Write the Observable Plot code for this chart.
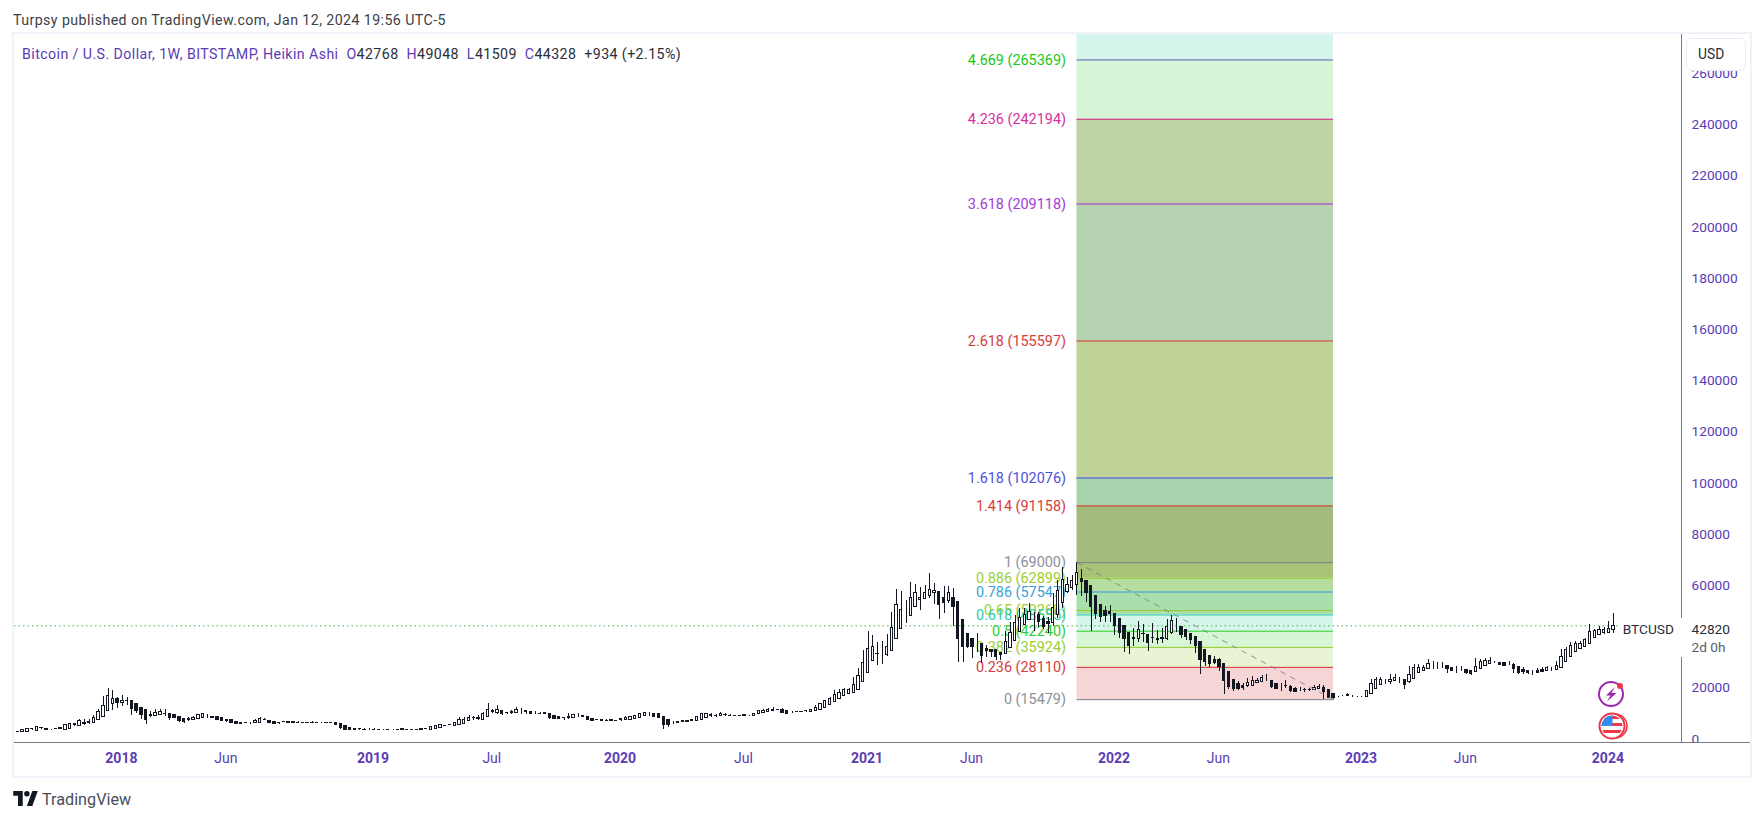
<!DOCTYPE html>
<html><head><meta charset="utf-8">
<script src="https://cdn.jsdelivr.net/npm/d3@7"></script>
<script src="https://cdn.jsdelivr.net/npm/@observablehq/plot@0.6"></script>
<style>
html,body{margin:0;padding:0;background:#fff;width:1764px;height:821px;overflow:hidden;font-family:Roboto,sans-serif}
.abs{position:absolute;white-space:nowrap}
#chart{position:absolute;left:0;top:33px}
</style></head><body>
<div class="abs" style="left:13px;top:11px;font-size:14.2px;letter-spacing:.42px;line-height:18px;color:#3c3f48">Turpsy published on TradingView.com, Jan 12, 2024 19:56 UTC-5</div>
<div id="chart"></div>
<div class="abs" style="left:12px;top:32px;width:1740px;height:746px;box-sizing:border-box;border:2px solid #f0f3fa"></div>
<div class="abs" style="left:1683px;top:743px;width:66px;height:32px;background:#fff"></div>
<div class="abs" style="left:14px;top:742px;width:1736px;height:1px;background:#787b86"></div>
<div class="abs" style="left:22px;top:45px;font-size:14.2px;letter-spacing:.42px;line-height:18px;color:#2a2e39"><span style="color:#5b3cb4">Bitcoin / U.S. Dollar, 1W, BITSTAMP, Heikin Ashi</span>&nbsp; <span style="color:#5b3cb4">O</span>42768&nbsp; <span style="color:#5b3cb4">H</span>49048&nbsp; <span style="color:#5b3cb4">L</span>41509&nbsp; <span style="color:#5b3cb4">C</span>44328&nbsp; +934 (+2.15%)</div>
<div class="abs" style="left:1686px;top:38px;width:60px;height:33px;box-sizing:border-box;border:1.5px solid #e9eaf3;border-radius:6px;background:#fff;font-size:13.8px;line-height:30px;padding-left:11px;color:#2a2e39">USD</div>
<svg class="abs" style="left:1594px;top:678px" width="36" height="64" viewBox="0 0 36 64">
<circle cx="17" cy="16" r="12" fill="#fff" stroke="#9c27b0" stroke-width="2"/>
<path d="M21 9 L12 17.5 L16.5 17.5 L13 23.5 L22.5 15 L17.5 15 Z" fill="#9c27b0"/>
<circle cx="26" cy="8" r="3" fill="#f23645"/>
<circle cx="21" cy="48" r="12" fill="#fff" stroke="#f23645" stroke-width="1.6"/>
<circle cx="18" cy="48" r="12.5" fill="#fff" stroke="#f23645" stroke-width="2"/>
<clipPath id="fc"><circle cx="18" cy="48" r="10.5"/></clipPath>
<g clip-path="url(#fc)"><rect x="6" y="37" width="24" height="22" fill="#fff"/>
<rect x="6" y="37" width="24" height="4" fill="#f23645"/><rect x="6" y="45" width="24" height="3" fill="#f23645"/><rect x="6" y="52" width="24" height="3" fill="#f23645"/>
<rect x="7" y="37" width="11.5" height="11" fill="#2f8df0"/></g>
</svg>
<svg class="abs" style="left:13px;top:791px" width="25" height="15" viewBox="0 0 36 22"><path fill="#131722" d="M14 22H7V7H0V0h14v22zM28 22h-8L28 0h8l-8 22z"/><circle cx="20" cy="4" r="4" fill="#131722"/></svg>
<div class="abs" style="left:42px;top:790px;font-size:16.2px;line-height:20px;color:#4a4e5a">TradingView</div>
<script>
const firstWeek = "2017-07-24";
const opens = [
2650,2800,2900,3000,3900,3400,4300,4100,3800,4000,
3900,3800,4200,5900,5130,6000,6200,6300,7470,8780,
11120,13600,15700,14100,14800,14800,13600,12400,11250,9300,
9040,9560,9900,9950,9300,8780,8100,7800,7600,8000,
8400,9000,8900,8800,8500,7700,7600,6800,6500,6300,
6300,6400,6500,7600,7200,6900,6500,6700,6600,6700,
6500,6500,6450,6400,6450,6400,6450,6400,6500,6000,
5300,4600,4200,3900,3800,3800,3800,3700,3600,3600,
3700,3700,3800,3750,3750,3720,3800,3850,3700,4000,
4500,5300,5400,5100,5500,6000,7000,8200,8100,7700,
8900,10500,10300,11000,10200,10400,10100,11000,11000,10500,
10200,10000,10100,10000,9100,8900,8500,8300,8300,9100,
8950,8900,8000,7500,7500,7300,7400,7300,7400,7400,
7700,8000,8300,9000,9800,9800,9700,8900,7600,6300,
6600,6800,7000,7300,7000,7400,8400,9200,9000,9000,
9400,9200,9200,9150,9200,9200,9200,9700,10300,10700,
11100,11300,11640,11000,10700,10700,10600,10900,10700,11000,
11400,12200,13500,14600,15800,17100,17800,18000,19450,22300,
25800,30500,33300,33400,33100,34400,39200,42900,48600,48100,
51600,54500,54900,56000,57200,57700,55000,54000,55250,53700,
46700,41200,39000,37300,37300,35300,35000,34700,33900,33400,
35700,38300,41800,44700,46500,47000,48400,47000,45900,45400,
48400,53200,57500,59200,60200,62700,62000,59700,55800,52650,
50300,49650,49000,46800,44200,41700,39500,39100,41200,40900,
39700,39350,39600,39100,41500,44300,44050,42500,41200,40150,
38200,34700,32700,31150,30800,29600,26100,23200,21660,21000,
20750,21000,22000,22300,23350,22700,21660,21000,21000,20600,
19800,19300,19200,19300,19200,19700,20200,19300,17750,16800,
17100,17100,17000,16700,16700,16450,17500,19600,21300,22300,
22200,22700,23100,23200,22200,23500,25800,26600,27400,28600,
28700,28700,28800,28000,27500,27650,27100,26700,26200,27400,
28600,29350,30000,29850,29850,29600,29100,28300,27100,26600,
26500,26500,26900,26600,27250,27000,27800,30100,32300,34000,
35200,36000,37300,39500,40800,41500,41600,42768];
const highs = [
2800,3200,3800,4300,4300,4800,4600,4200,4000,4200,
4600,5500,5900,6000,7740,7740,7600,9170,11500,16715,
19700,19060,16460,17100,16460,14800,13600,12400,11250,11000,
11500,11640,11640,9950,9300,8780,8100,8640,8800,9500,
9950,9700,9000,8800,8500,7700,7600,6800,6500,6500,
6700,7600,8500,8100,7200,6900,6700,7000,6800,6700,
6800,6650,6600,6800,6600,6550,6600,6500,6500,6000,
5300,4600,4200,4200,4100,4150,4100,3850,3800,3750,
3950,3900,3950,3900,3900,3900,4100,4200,4800,5500,
5500,5400,5800,6700,8400,8600,9300,9000,9300,10600,
14100,11600,13200,11300,10600,11300,12500,11900,11000,10500,
10800,10300,10600,10000,9100,8900,8600,10200,9700,10000,
9100,8900,8000,7700,7700,7700,7600,7500,8100,9000,
9100,9000,10000,10400,10400,9900,9700,8900,7600,7000,
7000,7300,7200,7900,9000,9800,10000,10200,9600,10400,
9900,9500,9400,9300,9500,9400,9900,11400,11800,12000,
12400,11800,12000,11000,11000,11000,10900,11300,11600,13200,
13800,15000,16200,19000,19300,19700,19700,24300,27500,34700,
42100,40400,37900,38200,40900,49700,58400,57700,54200,61400,
60500,59400,60100,64600,61000,57700,59700,59700,58800,53700,
46700,41200,39000,41200,37300,36600,35000,34700,33900,42000,
45800,48400,51000,51000,53000,49700,49700,48000,47700,56800,
62000,67000,63300,64000,69000,66200,62000,59700,55800,52650,
51900,52250,49000,46800,44200,41700,43150,46000,44800,40900,
45100,42500,43150,46800,48350,47000,44050,42500,41200,40150,
38200,34700,32700,32300,31400,29600,26100,23200,22600,21660,
23600,24500,23600,24900,25300,22700,21660,21660,22950,21000,
20200,20350,19800,19900,21000,21300,21150,19300,17750,16900,
17300,18000,17100,16800,16800,18800,23300,24300,24000,23200,
25300,25200,24100,23200,28400,29100,29100,28800,31000,30400,
30000,30000,28800,28000,28400,28400,27100,26700,31500,31000,
31400,31950,30300,29850,29850,30400,29500,28300,28000,26600,
26700,27500,28000,28600,28000,30400,35100,35850,37800,38200,
38200,39500,44800,43000,44000,43500,45900,49048];
const lows = [
2550,2500,2800,2900,3300,3300,3800,3500,3400,3700,
3800,3700,4100,5100,4990,5500,5700,6040,7340,8640,
11120,11380,12160,12800,13070,9300,10200,7740,5780,8400,
8800,9300,9040,7340,8000,6700,6300,6950,7400,7900,
8300,8100,8400,7500,7000,6500,6300,5800,5700,6000,
5900,6200,6400,7300,6200,5800,5900,6400,6300,6200,
6200,6300,6300,6350,6300,6300,6300,6300,5500,3800,
3300,3300,3300,3600,3550,3600,3600,3500,3450,3400,
3500,3600,3700,3650,3650,3650,3700,3750,3650,3950,
4400,5100,5200,5000,5400,5900,6900,7300,7300,7600,
8900,9900,9800,9300,9700,9700,9900,9700,9600,9600,
9800,9800,9900,7700,7900,7950,7400,7600,8200,8400,
8700,7300,6900,7300,7100,6900,7100,7100,7100,7300,
7600,7900,8200,8900,9100,8800,8000,3800,4700,5800,
6200,6400,6800,7000,6900,7300,8300,8400,8500,8900,
9000,8900,9000,8900,9000,9000,9100,9700,10300,10700,
11000,11100,10000,9900,10100,10400,10300,10600,10600,10900,
11300,12100,13400,14500,15700,17000,17700,17900,19400,22200,
25800,30400,28800,29200,32300,34300,39100,42800,45100,48000,
51500,50300,54800,55000,52700,46800,49000,53200,44100,30100,
30000,35500,31400,34000,29500,32100,32100,30800,30800,33300,
35600,38200,41700,44600,46400,42000,43800,42800,41200,44000,
47000,51000,56800,58000,56200,55800,53500,42200,46800,45800,
45800,45800,40500,39500,34000,33100,36250,38000,37900,34300,
37300,37000,37550,38700,41000,41700,39200,38600,37000,33400,
25300,28400,27900,29200,26600,17500,19300,18800,19050,19050,
20400,20500,21800,22300,22600,19700,19400,18800,19700,18400,
18400,18800,18400,18600,19000,19500,15700,16000,15600,16300,
16600,16700,16500,16400,16400,16400,17400,19500,21200,21400,
21400,22600,21900,19600,21800,23400,25700,26500,27300,27300,
27100,27600,25800,26500,25800,26600,25300,25000,26100,27300,
28500,29300,29700,28800,28400,28800,25800,25450,25300,25450,
25050,25700,26000,26500,26500,26900,27700,30000,32200,33900,
35100,35900,37200,39400,40700,41000,41300,41509];
const closes = [
2700,2900,3700,4200,4000,4700,4400,3600,3800,3950,
4500,5400,5800,5500,7080,6500,6950,8500,10470,13070,
16980,15800,14300,15150,14900,11770,11000,9300,7470,9000,
10200,10470,9950,8400,8250,7340,6700,7700,8500,9300,
9700,9000,8500,7600,7200,7000,6400,5900,5900,6200,
6300,7200,7900,7700,6300,5900,6400,6600,6500,6400,
6450,6450,6400,6450,6400,6400,6400,6350,5500,4500,
3700,3600,3500,3850,3750,3800,3750,3650,3600,3550,
3700,3800,3850,3700,3720,3750,3850,3950,4700,5100,
5400,5250,5550,6300,7400,7700,8500,8400,8400,9700,
11600,11000,11500,9700,10100,10600,11600,11000,10500,9800,
10200,10050,10050,8300,7900,8000,8200,8700,9500,9100,
8900,7400,7000,7400,7300,7200,7200,7250,7800,8200,
8600,9000,9700,10200,9800,8800,8400,5500,5500,6300,
6500,7000,6950,7500,8900,9700,9700,9400,9200,9900,
9300,9150,9100,9200,9300,9200,9800,11000,11200,11500,
11500,11500,10200,10000,10700,10650,10550,11000,11500,12400,
13600,14800,15800,17400,18000,19100,19100,21400,24800,29900,
35100,36200,33400,33400,36200,43500,52650,50600,48600,55250,
57200,55250,57200,58400,58000,52300,53200,57000,51600,39000,
36000,36000,36000,37300,32700,34400,34000,32300,33000,37900,
41500,45500,47400,48600,49800,47000,46000,43800,45000,51200,
58100,62300,60300,62000,65000,61400,57100,51600,49000,47700,
48350,48750,44200,41700,39200,36250,39000,42750,41000,37550,
39600,38600,39000,44050,46250,44300,40700,39900,38600,36250,
30800,30000,29500,29900,28400,22600,20350,19800,19700,20000,
22050,22950,22950,23750,23350,20350,19600,21000,20900,18800,
18650,19300,19150,19350,20200,20600,18400,16200,15950,16800,
17100,17300,17000,16700,16700,18800,21700,23350,23350,22300,
23200,24000,23100,21400,25300,28000,28000,28000,29500,28600,
28700,28700,27400,26600,27500,27650,25950,25700,28400,30250,
30400,30400,30000,29200,28800,29600,27400,25800,26200,25800,
26500,25800,26200,28000,27250,28700,32300,34950,36250,37300,
37300,38600,41800,42200,42500,42500,43150,44328];
const yearTicks = ["2018-01-01","2019-01-07","2020-01-06","2021-01-04","2022-01-03","2023-01-02","2024-01-01"];
const monthTicks = ["2018-06-04","2019-07-01","2020-07-06","2021-06-07","2022-06-06","2023-06-05"];
const priceTicks = [0,20000,60000,80000,100000,120000,140000,160000,180000,200000,220000,240000,260000];
const fibRatios = [4.669,4.236,3.618,2.618,1.618,1.414,1,0.886,0.786,0.65,0.618,0.5,0.382,0.236,0];
const fibPrices = [265369,242194,209118,155597,102076,91158,69000,62899,57547,50268,48555,42240,35924,28110,15479];
const fibStart = "2021-11-08", fibEnd = "2022-11-21";
const lastPrice = 42820;

const fibLineColors = ["#4b5fb5","#d81b8c","#9c27d0","#d32f2f","#3344d6","#d32f2f","#787b86","#94cc22","#2f97d8","#94cc22","#22c9a6","#22cc22","#88cc22","#d32f2f","#787b86"];
const fibTextColors = ["#17c917","#d6309a","#a03bd8","#d63c3c","#4a52d8","#d63c3c","#8c8f99","#9ccf2e","#3ca0dc","#9ccf2e","#2ccfa8","#2ed02e","#98d02e","#d63c3c","#8c8f99"];
const fibFillColors = ["#d6f5d6","#c0d3a3","#b5d3b0","#c0d398","#a8d2ac","#a2ba7c","#aac178","#b5de9f","#a9dfac","#a9dfac","#d6f6ec","#d6f6d6","#e9f4d4","#f6d5d6"];
const axisColor = "#5b3cb4", lineGrey = "#787b86", candleInk = "#131722";

const day = 864e5;
const date = s => new Date(s + "T00:00:00Z");
const candles = d3.range(opens.length).map(i => ({
  t: new Date(+date(firstWeek) + i * 7 * day),
  o: opens[i], h: highs[i], l: lows[i], c: closes[i]
}));
const fibRows = fibRatios.map((r, i) => ({r, p: fibPrices[i], line: fibLineColors[i], text: fibTextColors[i]}));
const topPrice = 275690, bottomPrice = -1445;
const fillRows = fibFillColors.map((fill, i) => ({y1: fibPrices[i + 1], y2: fibPrices[i], fill}));
fillRows.unshift({y1: fibPrices[0], y2: topPrice, fill: "#d6f5ec"});
const xMin = date("2017-07-26"), xMax = date("2024-04-17");
const halfBody = 1.7 * day;

const up = candles.filter(d => d.c >= d.o), down = candles.filter(d => d.c < d.o);
const bodyX1 = d => new Date(+d.t - halfBody), bodyX2 = d => new Date(+d.t + halfBody);
const font = {fontFamily: "Roboto,sans-serif"};

const plot = Plot.plot({
  width: 1764, height: 745,
  marginTop: 0, marginLeft: 14, marginRight: 83, marginBottom: 35.5,
  style: {background: "transparent", fontFamily: "Roboto,sans-serif", overflow: "visible"},
  x: {type: "utc", domain: [xMin, xMax]},
  y: {domain: [bottomPrice, topPrice]},
  marks: [
    Plot.rect(fillRows, {x1: () => date(fibStart), x2: () => date(fibEnd), y1: "y1", y2: "y2", fill: d => d.fill}),
    Plot.ruleY(fibRows, {y: "p", x1: () => date(fibStart), x2: () => date(fibEnd), stroke: d => d.line, strokeWidth: 1}),
    Plot.ruleY([closes[closes.length - 1]], {x1: xMin, x2: date("2024-01-15"), stroke: "#4caf50", strokeWidth: 1, strokeDasharray: "1.5,3"}),
    Plot.text(fibRows, {
      x: () => date(fibStart), y: "p", text: d => `${d.r} (${d.p})`, fill: d => d.text,
      textAnchor: "end", dx: -11, fontSize: 14.4, ...font
    }),
    Plot.ruleX(candles, {x: "t", y1: "l", y2: "h", stroke: candleInk, strokeWidth: 1, clip: "frame", shapeRendering: "crispEdges"}),
    Plot.rect(up, {x1: bodyX1, x2: bodyX2, y1: "o", y2: "c", fill: "#fff", stroke: candleInk, strokeWidth: 1, clip: "frame", shapeRendering: "crispEdges"}),
    Plot.rect(down, {x1: bodyX1, x2: bodyX2, y1: "o", y2: "c", fill: candleInk, stroke: candleInk, strokeWidth: 1, clip: "frame", shapeRendering: "crispEdges"}),
    Plot.line([{t: date(fibStart), p: fibPrices[6]}, {t: date(fibEnd), p: fibPrices[14]}], {x: "t", y: "p", stroke: lineGrey, strokeWidth: 1, strokeDasharray: "5,6", strokeOpacity: 0.8}),
    Plot.ruleX([xMax], {y1: bottomPrice, y2: 31950, stroke: lineGrey}),
    Plot.ruleX([xMax], {y1: 47200, y2: topPrice, stroke: lineGrey}),
    Plot.axisY({anchor: "right", label: null, ticks: priceTicks, tickSize: 0, tickPadding: 10, tickFormat: d3.format("d"), color: axisColor, fontSize: 13.7, ...font}),
    Plot.axisX({label: null, ticks: yearTicks.map(date), tickSize: 0, tickPadding: 10, tickFormat: d3.utcFormat("%Y"), color: axisColor, fontSize: 14, fontWeight: 700, dx: -1, ...font}),
    Plot.axisX({label: null, ticks: monthTicks.map(date), tickSize: 0, tickPadding: 10, tickFormat: d3.utcFormat("%b"), color: axisColor, fontSize: 14, dx: -1, ...font}),
    Plot.text([lastPrice], {x: () => candles[candles.length - 1].t, y: d => d, text: () => "BTCUSD", textAnchor: "start", dx: 9, fill: "#2a2e39", fontSize: 13.7, ...font}),
    Plot.text([lastPrice], {x: () => xMax, y: d => d, text: d => String(d), textAnchor: "start", dx: 10, fill: "#2a2e39", fontSize: 13.7, ...font}),
    Plot.text([lastPrice], {x: () => xMax, y: d => d, text: () => "2d 0h", textAnchor: "start", dx: 10, dy: 18, fill: "#5d606b", fontSize: 13.7, ...font})
  ]
});
document.getElementById("chart").appendChild(plot);
</script>
</body></html>
